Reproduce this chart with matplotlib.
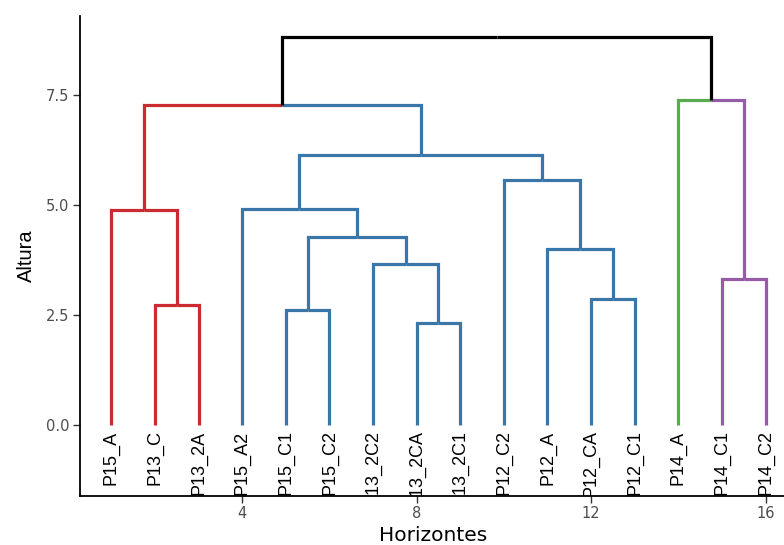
import matplotlib
matplotlib.use("Agg")
import matplotlib.pyplot as plt

# ---- data ----
leaves = ["P15_A", "P13_C", "P13_2A", "P15_A2", "P15_C1", "P15_C2", "P13_2C2",
          "P13_2CA", "P13_2C1", "P12_C2", "P12_A", "P12_CA", "P12_C1",
          "P14_A", "P14_C1", "P14_C2"]
leaf_cluster = [1, 1, 1, 2, 2, 2, 2, 2, 2, 2, 2, 2, 2, 3, 4, 4]

merge_left = ["P13_C", "P15_A", "P15_C1", "P13_2CA", "P13_2C2", "m2", "P15_A2",
              "P12_CA", "P12_A", "P12_C2", "m6", "m1", "P14_C1", "P14_A", "m11"]
merge_right = ["P13_2A", "m0", "P15_C2", "P13_2C1", "m3", "m4", "m5",
               "P12_C1", "m7", "m8", "m9", "m10", "P14_C2", "m12", "m13"]
merge_height = [2.74, 4.88, 2.62, 2.33, 3.65, 4.27, 4.92,
                2.87, 3.99, 5.56, 6.13, 7.28, 3.32, 7.39, 8.81]

cluster_colors = {1: "#CB2A30", 2: "#3B76A8", 3: "#5AAA50", 4: "#955BA5"}
xticks = [4, 8, 12, 16]
yticks = [0.0, 2.5, 5.0, 7.5]
ytick_labels = ["0.0", "2.5", "5.0", "7.5"]

# ---- build node positions ----
pos = {}
height = {}
members = {}
for i, name in enumerate(leaves):
    pos[name] = i + 1
    height[name] = 0.0
    members[name] = {leaf_cluster[i]}

fig = plt.figure(figsize=(7.84, 5.45), dpi=100)
ax = fig.add_axes([0.102, 0.090, 0.900, 0.881])

lw = 2.3
for k, (l, r, h) in enumerate(zip(merge_left, merge_right, merge_height)):
    node = "m%d" % k
    x = (pos[l] + pos[r]) / 2.0
    pos[node] = x
    height[node] = h
    members[node] = members[l] | members[r]
    for child in (l, r):
        cl = members[child]
        color = cluster_colors[next(iter(cl))] if len(cl) == 1 else "black"
        ax.plot([pos[child], pos[child], x], [height[child], h, h],
                color=color, lw=lw, solid_capstyle="butt",
                solid_joinstyle="miter", zorder=2)

for i, name in enumerate(leaves):
    ax.text(i + 1, -0.12, name, rotation=90, ha="center", va="top",
            fontsize=13, family="Liberation Sans", color="black",
            clip_on=True)

ax.set_xlim(0.28, 16.46)
ax.set_ylim(-1.61, 9.3)
ax.set_xticks(xticks)
ax.set_xticklabels([str(t) for t in xticks])
ax.set_yticks(yticks)
ax.set_yticklabels(ytick_labels)
for lab in ax.get_xticklabels() + ax.get_yticklabels():
    lab.set_family("DejaVu Sans")
    lab.set_fontsize(10.5)
    lab.set_color("#4D4D4D")
ax.tick_params(axis="both", length=5, width=1.0, color="#333333", pad=2.5)

for s in ["top", "right"]:
    ax.spines[s].set_visible(False)
for s in ["left", "bottom"]:
    ax.spines[s].set_linewidth(1.3)
    ax.spines[s].set_color("black")

ax.set_xlabel("Horizontes", fontsize=14.5, family="DejaVu Sans", labelpad=3)
ax.set_ylabel("Altura", fontsize=14.5, family="Liberation Sans", labelpad=7)

fig.savefig("out.png", dpi=100)
